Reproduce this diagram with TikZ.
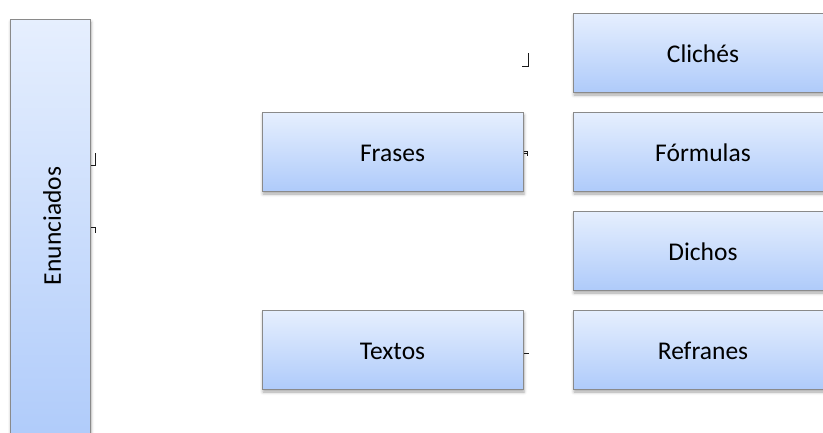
\documentclass[tikz,border=0pt]{standalone}
\usepackage{fontspec}
\setmainfont{Carlito}
\usetikzlibrary{shadows.blur,calc}
\definecolor{boxtop}{HTML}{E6EFFE}
\definecolor{boxbot}{HTML}{AFCBFA}
\definecolor{boxline}{HTML}{8A8A8A}
\definecolor{stub}{HTML}{1A1A1A}
\begin{document}
\begin{tikzpicture}[x=1pt,y=-1pt,
  box/.style={rectangle, draw=boxline, line width=1pt,
    top color=boxtop, bottom color=boxbot,
    blur shadow={shadow xshift=1pt, shadow yshift=-3pt, shadow blur radius=3pt, shadow opacity=35},
    inner sep=0pt, text height=20.5pt, text depth=0pt,
    font=\fontsize{25.5}{30}\selectfont},
  wide/.style={box, minimum width=261pt, minimum height=79pt},
  label/.style={inner sep=0pt, font=\fontsize{25.5}{30}\selectfont},
  stubline/.style={draw=stub, line width=0.9pt}]
\useasboundingbox (0,0) rectangle (823,432);
\clip (0,0) rectangle (823,432);

% left column
\node[box, minimum width=80pt, minimum height=424pt] (enun) at (50,231) {};
\node[label, rotate=90] (enuntext) at (52,226) {Enunciados};

% middle column
\node[wide] (frases) at (392.5,151.5) {Frases};
\node[wide] (textos) at (392.5,349.5) {Textos};

% right column
\node[wide, minimum width=260pt] (cliches)  at (703,52.5)  {Clichés};
\node[wide, minimum width=260pt] (formulas) at (703,151.5) {Fórmulas};
\node[wide, minimum width=260pt] (dichos)   at (703,250.5) {Dichos};
\node[wide, minimum width=260pt] (refranes) at (703,349.5) {Refranes};

% short connector stubs beside the boxes
\coordinate (a1) at (enun.east |- 0,165);
\coordinate (a2) at (95.7,165);
\coordinate (a3) at (95.7,152.7);
\draw[stubline] (a1) -- (a2) -- (a3);

\coordinate (b1) at (enun.east |- 0,227.3);
\coordinate (b2) at (95.7,227.3);
\coordinate (b3) at (95.7,233);
\draw[stubline] (b1) -- (b2) -- (b3);

\coordinate (c1) at (522,66);
\coordinate (c2) at (528.3,66);
\coordinate (c3) at (528.3,53);
\draw[stubline] (c1) -- (c2) -- (c3);

\coordinate (d1) at (frases.east |- 0,151);
\coordinate (d2) at (527.5,151);
\coordinate (d3) at (527.5,156);
\coordinate (d4) at (frases.east |- 0,153.5);
\coordinate (d5) at (527.5,153.5);
\draw[stubline] (d1) -- (d2) -- (d3);
\draw[stubline] (d4) -- (d5);

\coordinate (e1) at (textos.east |- 0,353.3);
\coordinate (e2) at (529,353.3);
\draw[stubline] (e1) -- (e2);
\end{tikzpicture}
\end{document}
